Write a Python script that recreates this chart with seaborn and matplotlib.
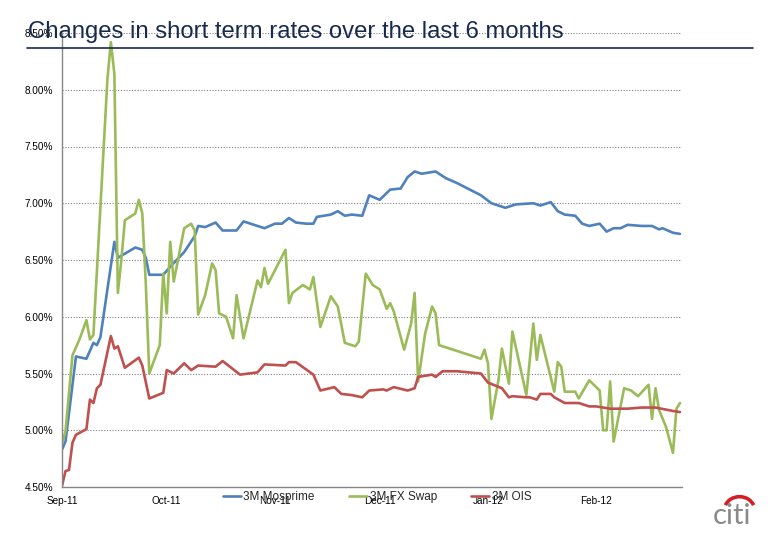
import pandas as pd
import numpy as np
import matplotlib
matplotlib.use("Agg")
import matplotlib.pyplot as plt
import matplotlib.dates as mdates
from matplotlib.ticker import FuncFormatter
from matplotlib.patches import Arc
from matplotlib.lines import Line2D
import seaborn as sns

# ---------------- data ----------------
series_names = ["3M Mosprime", "3M FX Swap", "3M OIS"]
series_colors = ["#4F81BD", "#9BBB59", "#C0504D"]

mosprime_dates = [
    "2011-09-01", "2011-09-02", "2011-09-05", "2011-09-08", "2011-09-10", "2011-09-11",
    "2011-09-12", "2011-09-16", "2011-09-17", "2011-09-22", "2011-09-24", "2011-09-25",
    "2011-09-26", "2011-09-30", "2011-10-02", "2011-10-06", "2011-10-09", "2011-10-10",
    "2011-10-12", "2011-10-15", "2011-10-17", "2011-10-21", "2011-10-23", "2011-10-26",
    "2011-10-29", "2011-11-01", "2011-11-03", "2011-11-05", "2011-11-07", "2011-11-10",
    "2011-11-12", "2011-11-13", "2011-11-17", "2011-11-19", "2011-11-21", "2011-11-23",
    "2011-11-26", "2011-11-28", "2011-12-01", "2011-12-04", "2011-12-07", "2011-12-09",
    "2011-12-11", "2011-12-13", "2011-12-17", "2011-12-20", "2011-12-23", "2011-12-30",
    "2012-01-02", "2012-01-06", "2012-01-09", "2012-01-14", "2012-01-16", "2012-01-19",
    "2012-01-21", "2012-01-23", "2012-01-26", "2012-01-28", "2012-01-30", "2012-02-02",
    "2012-02-04", "2012-02-06", "2012-02-08", "2012-02-10", "2012-02-14", "2012-02-17",
    "2012-02-19", "2012-02-20", "2012-02-23", "2012-02-25",
]
mosprime_vals = [
    4.83, 4.90, 5.65, 5.63, 5.77, 5.75,
    5.82, 6.66, 6.52, 6.61, 6.59, 6.52,
    6.37, 6.37, 6.44, 6.57, 6.71, 6.80,
    6.79, 6.83, 6.76, 6.76, 6.84, 6.81,
    6.78, 6.82, 6.82, 6.87, 6.83, 6.82,
    6.82, 6.88, 6.90, 6.93, 6.89, 6.90,
    6.89, 7.07, 7.03, 7.12, 7.13, 7.23,
    7.28, 7.26, 7.28, 7.22, 7.18, 7.07,
    7.00, 6.96, 6.99, 7.00, 6.98, 7.01,
    6.93, 6.90, 6.89, 6.82, 6.80, 6.82,
    6.75, 6.78, 6.78, 6.81, 6.80, 6.80,
    6.77, 6.78, 6.74, 6.73,
]

fxswap_dates = [
    "2011-09-01", "2011-09-02", "2011-09-04", "2011-09-06", "2011-09-08", "2011-09-09",
    "2011-09-10", "2011-09-14", "2011-09-15", "2011-09-16", "2011-09-17", "2011-09-18",
    "2011-09-19", "2011-09-22", "2011-09-23", "2011-09-24", "2011-09-25", "2011-09-26",
    "2011-09-29", "2011-09-30", "2011-10-01", "2011-10-02", "2011-10-03", "2011-10-06",
    "2011-10-08", "2011-10-09", "2011-10-10", "2011-10-12", "2011-10-14", "2011-10-15",
    "2011-10-16", "2011-10-18", "2011-10-20", "2011-10-21", "2011-10-23", "2011-10-27",
    "2011-10-28", "2011-10-29", "2011-10-30", "2011-11-04", "2011-11-05", "2011-11-06",
    "2011-11-09", "2011-11-11", "2011-11-12", "2011-11-14", "2011-11-17", "2011-11-19",
    "2011-11-21", "2011-11-24", "2011-11-25", "2011-11-27", "2011-11-29", "2011-12-01",
    "2011-12-03", "2011-12-04", "2011-12-05", "2011-12-08", "2011-12-10", "2011-12-11",
    "2011-12-12", "2011-12-14", "2011-12-16", "2011-12-17", "2011-12-18", "2011-12-22",
    "2011-12-30", "2011-12-31", "2012-01-01", "2012-01-02", "2012-01-04", "2012-01-05",
    "2012-01-07", "2012-01-08", "2012-01-10", "2012-01-12", "2012-01-14", "2012-01-15",
    "2012-01-16", "2012-01-20", "2012-01-21", "2012-01-22", "2012-01-23", "2012-01-26",
    "2012-01-27", "2012-01-30", "2012-02-02", "2012-02-03", "2012-02-04", "2012-02-05",
    "2012-02-06", "2012-02-09", "2012-02-11", "2012-02-13", "2012-02-16", "2012-02-17",
    "2012-02-18", "2012-02-19", "2012-02-21", "2012-02-23", "2012-02-24", "2012-02-25",
]
fxswap_vals = [
    4.88, 4.99, 5.66, 5.80, 5.97, 5.80,
    5.84, 8.09, 8.42, 8.14, 6.21, 6.50,
    6.85, 6.91, 7.03, 6.91, 6.29, 5.50,
    5.75, 6.38, 6.03, 6.66, 6.31, 6.78,
    6.82, 6.76, 6.02, 6.19, 6.47, 6.41,
    6.03, 6.00, 5.81, 6.19, 5.81, 6.32,
    6.26, 6.43, 6.29, 6.59, 6.12, 6.21,
    6.28, 6.24, 6.35, 5.91, 6.18, 6.09,
    5.77, 5.74, 5.78, 6.38, 6.28, 6.24,
    6.07, 6.12, 6.05, 5.71, 5.94, 6.21,
    5.43, 5.85, 6.09, 6.03, 5.75, 5.71,
    5.63, 5.71, 5.59, 5.10, 5.44, 5.72,
    5.41, 5.87, 5.59, 5.31, 5.94, 5.62,
    5.84, 5.34, 5.60, 5.56, 5.34, 5.34,
    5.28, 5.44, 5.35, 5.00, 5.00, 5.43,
    4.90, 5.37, 5.35, 5.30, 5.40, 5.10,
    5.37, 5.18, 5.03, 4.80, 5.19, 5.24,
]

ois_dates = [
    "2011-09-01", "2011-09-02", "2011-09-03", "2011-09-04", "2011-09-05", "2011-09-08",
    "2011-09-09", "2011-09-10", "2011-09-11", "2011-09-12", "2011-09-15", "2011-09-16",
    "2011-09-17", "2011-09-19", "2011-09-23", "2011-09-24", "2011-09-26", "2011-09-30",
    "2011-10-01", "2011-10-03", "2011-10-06", "2011-10-08", "2011-10-10", "2011-10-15",
    "2011-10-17", "2011-10-22", "2011-10-27", "2011-10-29", "2011-11-04", "2011-11-05",
    "2011-11-07", "2011-11-12", "2011-11-14", "2011-11-18", "2011-11-20", "2011-11-23",
    "2011-11-26", "2011-11-28", "2011-12-02", "2011-12-03", "2011-12-05", "2011-12-09",
    "2011-12-11", "2011-12-12", "2011-12-16", "2011-12-17", "2011-12-19", "2011-12-23",
    "2011-12-30", "2012-01-01", "2012-01-05", "2012-01-07", "2012-01-08", "2012-01-12",
    "2012-01-13", "2012-01-15", "2012-01-16", "2012-01-19", "2012-01-20", "2012-01-23",
    "2012-01-27", "2012-01-30", "2012-02-01", "2012-02-05", "2012-02-10", "2012-02-14",
    "2012-02-18", "2012-02-23", "2012-02-25",
]
ois_vals = [
    4.51, 4.64, 4.65, 4.89, 4.96, 5.01,
    5.27, 5.24, 5.37, 5.40, 5.83, 5.72,
    5.74, 5.55, 5.64, 5.57, 5.28, 5.33,
    5.53, 5.50, 5.59, 5.53, 5.57, 5.56,
    5.61, 5.49, 5.51, 5.58, 5.57, 5.60,
    5.60, 5.49, 5.35, 5.38, 5.32, 5.31,
    5.29, 5.35, 5.36, 5.35, 5.38, 5.35,
    5.37, 5.47, 5.49, 5.47, 5.52, 5.52,
    5.50, 5.42, 5.37, 5.29, 5.30, 5.29,
    5.29, 5.27, 5.32, 5.32, 5.29, 5.24,
    5.24, 5.21, 5.21, 5.19, 5.19, 5.20,
    5.20, 5.17, 5.16,
]

y_ticks = [4.5, 5.0, 5.5, 6.0, 6.5, 7.0, 7.5, 8.0, 8.5]
title_text = "Changes in short term rates over the last 6 months"
logo_text = "citi"

# ---------------- build long table ----------------
frames = []
for name, d, v in [(series_names[0], mosprime_dates, mosprime_vals),
                   (series_names[1], fxswap_dates, fxswap_vals),
                   (series_names[2], ois_dates, ois_vals)]:
    frames.append(pd.DataFrame({"date": pd.to_datetime(d), "rate": v, "series": name}))
df = pd.concat(frames, ignore_index=True)

# ---------------- plot ----------------
sns.set_style("white")
plt.rcParams["font.family"] = ["Liberation Sans", "DejaVu Sans"]

fig = plt.figure(figsize=(7.8, 5.4), dpi=100)
ax = fig.add_axes([62 / 780, 1 - 487 / 540, 620 / 780, 454 / 540])

sns.lineplot(data=df, x="date", y="rate", hue="series", hue_order=series_names,
             palette=dict(zip(series_names, series_colors)), estimator=None,
             linewidth=1.9, ax=ax)

ax.set_xlim(pd.Timestamp("2011-09-01"), pd.Timestamp("2012-02-25 14:00"))
ax.set_ylim(4.5, 8.5)
ax.set_yticks(y_ticks)
ax.yaxis.set_major_formatter(FuncFormatter(lambda v, p: f"{v:.2f}%"))
ax.xaxis.set_major_locator(mdates.MonthLocator())
ax.xaxis.set_major_formatter(mdates.DateFormatter("%b-%y"))
ax.set_xlabel("")
ax.set_ylabel("")
ax.tick_params(axis="both", length=0, labelsize=7.2, colors="black")
ax.tick_params(axis="y", pad=6.5)
ax.tick_params(axis="x", pad=6.5)
ax.grid(axis="y", linestyle=(0, (1, 1.5)), color="#808080", linewidth=0.8)
ax.grid(axis="x", visible=False)
for s in ["top", "right"]:
    ax.spines[s].set_visible(False)
for s in ["left", "bottom"]:
    ax.spines[s].set_color("#868686")
    ax.spines[s].set_linewidth(1.0)

handles, labels = ax.get_legend_handles_labels()
ax.get_legend().remove()
fig.legend(handles, labels, loc="center", bbox_to_anchor=(377 / 780, 1 - 497 / 540),
           ncol=3, frameon=False, fontsize=8.5, handlelength=1.55, handletextpad=0.2,
           columnspacing=2.9)

# title and rule
navy = "#172a4e"
fig.text(28 / 780, 1 - 38.3 / 540, title_text, ha="left", va="baseline",
         fontsize=17.2, color=navy)
fig.add_artist(Line2D([27 / 780, 753 / 780], [1 - 48 / 540, 1 - 48 / 540],
                      transform=fig.transFigure, color=navy, linewidth=1.2))

# logo
fig.text(732 / 780, 1 - 523.5 / 540, logo_text, ha="center", va="baseline",
         fontsize=21, color="#8a8a8a", family=["Lato", "DejaVu Sans"])
fig.add_artist(Arc((739.5 / 780, 1 - 509.7 / 540), 30 / 780, 26 / 540, theta1=25, theta2=155,
                   transform=fig.transFigure, color="#d21f26", linewidth=2.6))

fig.savefig("out.png", dpi=100)
